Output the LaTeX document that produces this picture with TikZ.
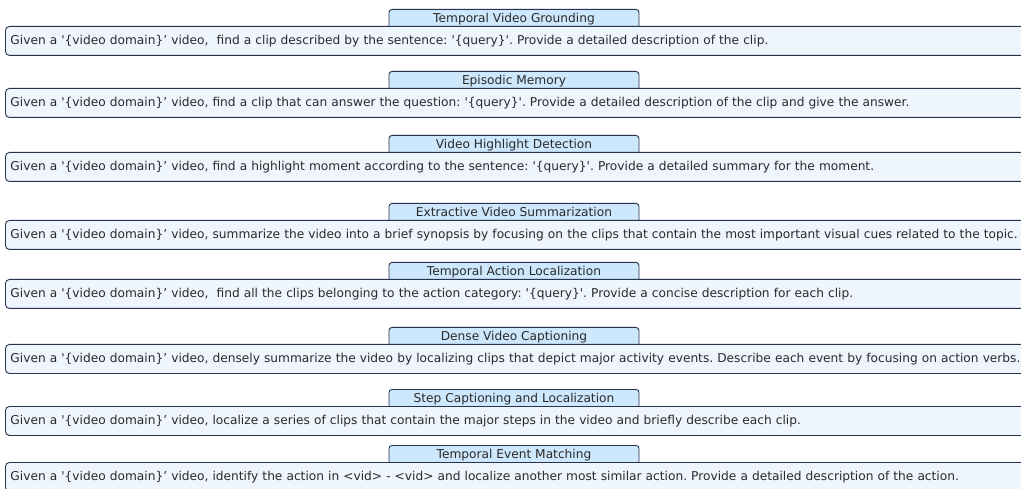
\documentclass[tikz,border=0pt]{standalone}
\usepackage{fontspec}
\newfontfamily\uifont{DejaVu Sans}
\frenchspacing
\definecolor{frameC}{HTML}{26334D}
\definecolor{titleC}{HTML}{CDE7FC}
\definecolor{bodyC}{HTML}{EEF5FD}
\definecolor{textC}{HTML}{2A2A2A}
\tikzset{
  uitext/.style={font=\uifont\fontsize{12.2}{14}\selectfont, text=textC},
  titlebox/.style={uitext, draw=frameC, fill=titleC, line width=0.9pt, rounded corners=3pt,
    anchor=north, minimum width=250pt, inner xsep=0pt, inner ysep=0pt,
    text height=13pt, text depth=8pt},
  bodybox/.style={uitext, draw=frameC, fill=bodyC, line width=0.9pt, rounded corners=4pt,
    anchor=north west, minimum width=1040pt, minimum height=29pt, text width=1030pt,
    align=left, inner xsep=4pt, inner ysep=0pt},
}
\newcommand\taskblock[4]{%
  \node[titlebox] (t#1) at (514,-#2) {#3};
  \node[bodybox] (b#1) at (5,-#2-17) {#4};
}
\begin{document}
\begin{tikzpicture}[x=1pt,y=1pt]
\useasboundingbox (0,0) rectangle (1021,-489);
\taskblock{1}{9}{Temporal Video Grounding}{Given a '\{video domain\}’ video,\ \ find a clip described by the sentence: '\{query\}'. Provide a detailed description of the clip.}
\taskblock{2}{71}{Episodic Memory}{Given a '\{video domain\}’ video, find a clip that can answer the question: '\{query\}'. Provide a detailed description of the clip and give the answer.}
\taskblock{3}{135}{Video Highlight Detection}{Given a '\{video domain\}’ video, find a highlight moment according to the sentence: '\{query\}'. Provide a detailed summary for the moment.}
\taskblock{4}{203}{Extractive Video Summarization}{Given a '\{video domain\}’ video, summarize the video into a brief synopsis by focusing on the clips that contain the most important visual cues related to the topic.}
\taskblock{5}{262}{Temporal Action Localization}{Given a '\{video domain\}’ video,\ \ find all the clips belonging to the action category: '\{query\}'. Provide a concise description for each clip.}
\taskblock{6}{327}{Dense Video Captioning}{Given a '\{video domain\}’ video, densely summarize the video by localizing clips that depict major activity events. Describe each event by focusing on action verbs.}
\taskblock{7}{389}{Step Captioning and Localization}{Given a '\{video domain\}’ video, localize a series of clips that contain the major steps in the video and briefly describe each clip.}
\taskblock{8}{445}{Temporal Event Matching}{Given a '\{video domain\}’ video, identify the action in <vid> - <vid> and localize another most similar action. Provide a detailed description of the action.}
\end{tikzpicture}
\end{document}
